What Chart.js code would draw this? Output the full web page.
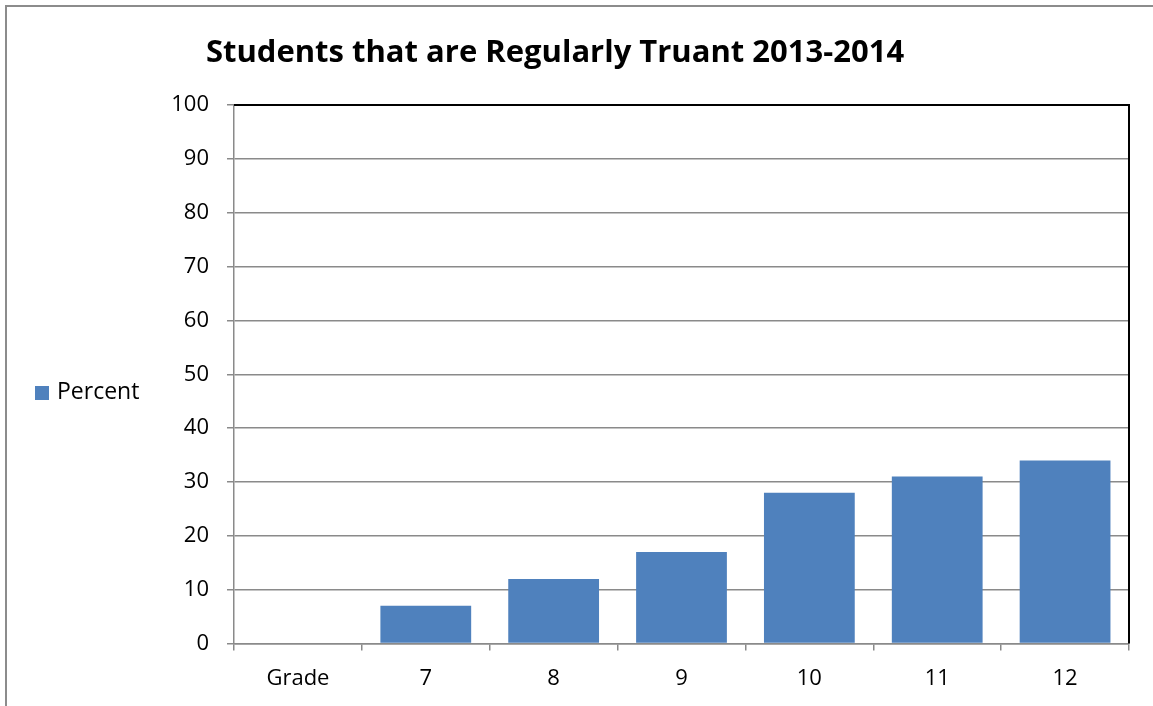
<!DOCTYPE html>
<html>
<head>
<meta charset="utf-8">
<script src="https://cdn.jsdelivr.net/npm/chart.js@4.4.1/dist/chart.umd.min.js"></script>
<style>
  html, body { margin: 0; padding: 0; background: #ffffff; }
  canvas { display: block; }
</style>
</head>
<body>
<canvas id="chart" width="1153" height="706"></canvas>
<script>
// Share of students who are regularly truant, by grade
const chartTitle = 'Students that are Regularly Truant 2013-2014';
const seriesName = 'Percent';
const grades = ['Grade', '7', '8', '9', '10', '11', '12'];
const percentValues = [null, 7, 12, 17, 28, 31, 34];
const yTicks = [0, 10, 20, 30, 40, 50, 60, 70, 80, 90, 100];

const FONT = '"Open Sans", "Liberation Sans", sans-serif';
const BAR_COLOR = '#4F81BD';
const GRID_COLOR = '#8a8a8a';

// Outer frame, title, legend and the dark top/right edge of the plot area
const decorations = {
  id: 'decorations',
  beforeDraw(chart) {
    const c = chart.ctx;
    c.save();
    c.fillStyle = '#ffffff';
    c.fillRect(0, 0, chart.width, chart.height);
    c.strokeStyle = '#8c8c8c';
    c.lineWidth = 2;
    c.strokeRect(6, 6, chart.width + 20, chart.height + 20);
    c.restore();
  },
  afterDraw(chart) {
    const c = chart.ctx;
    const a = chart.chartArea;
    c.save();
    // plot area top and right edges
    c.strokeStyle = '#000000';
    c.lineWidth = 2;
    c.beginPath();
    c.moveTo(a.left, a.top);
    c.lineTo(a.right, a.top);
    c.lineTo(a.right, a.bottom);
    c.stroke();

    // title
    c.fillStyle = '#000000';
    c.font = 'bold 31px ' + FONT;
    c.textAlign = 'center';
    c.textBaseline = 'alphabetic';
    c.fillText(chartTitle, 555, 62);

    // legend
    const ds = chart.data.datasets[0];
    c.fillStyle = ds.backgroundColor;
    c.fillRect(35, 386, 14, 14);
    c.fillStyle = '#000000';
    c.font = '23px ' + FONT;
    c.textAlign = 'left';
    c.textBaseline = 'middle';
    c.fillText(ds.label, 57, 392);
    c.restore();
  }
};

new Chart(document.getElementById('chart'), {
  type: 'bar',
  data: {
    labels: grades,
    datasets: [{
      label: seriesName,
      data: percentValues,
      backgroundColor: BAR_COLOR,
      borderWidth: 0,
      categoryPercentage: 1.0,
      barPercentage: 0.71
    }]
  },
  options: {
    responsive: false,
    animation: false,
    devicePixelRatio: 1,
    layout: { padding: { left: 150, right: 24, top: 105, bottom: 0 } },
    plugins: {
      legend: { display: false },
      title: { display: false },
      tooltip: { enabled: false }
    },
    scales: {
      x: {
        offset: true,
        grid: {
          offset: true,
          drawOnChartArea: false,
          drawTicks: true,
          tickLength: 7,
          color: GRID_COLOR,
          lineWidth: 1.5
        },
        border: { display: true, color: GRID_COLOR, width: 1.5 },
        ticks: {
          color: '#000000',
          font: { family: FONT, size: 22 },
          padding: 15,
          maxRotation: 0,
          autoSkip: false
        },
        afterFit(scale) { scale.height = 62.5; }
      },
      y: {
        min: 0,
        max: 100,
        afterBuildTicks(scale) { scale.ticks = yTicks.map(v => ({ value: v })); },
        grid: {
          color: GRID_COLOR,
          lineWidth: 1.5,
          drawTicks: true,
          tickLength: 7
        },
        border: { display: true, color: GRID_COLOR, width: 1.5 },
        ticks: {
          color: '#000000',
          font: { family: FONT, size: 22 },
          padding: 18
        },
        afterFit(scale) { scale.width = 84; }
      }
    }
  },
  plugins: [decorations]
});
</script>
</body>
</html>
